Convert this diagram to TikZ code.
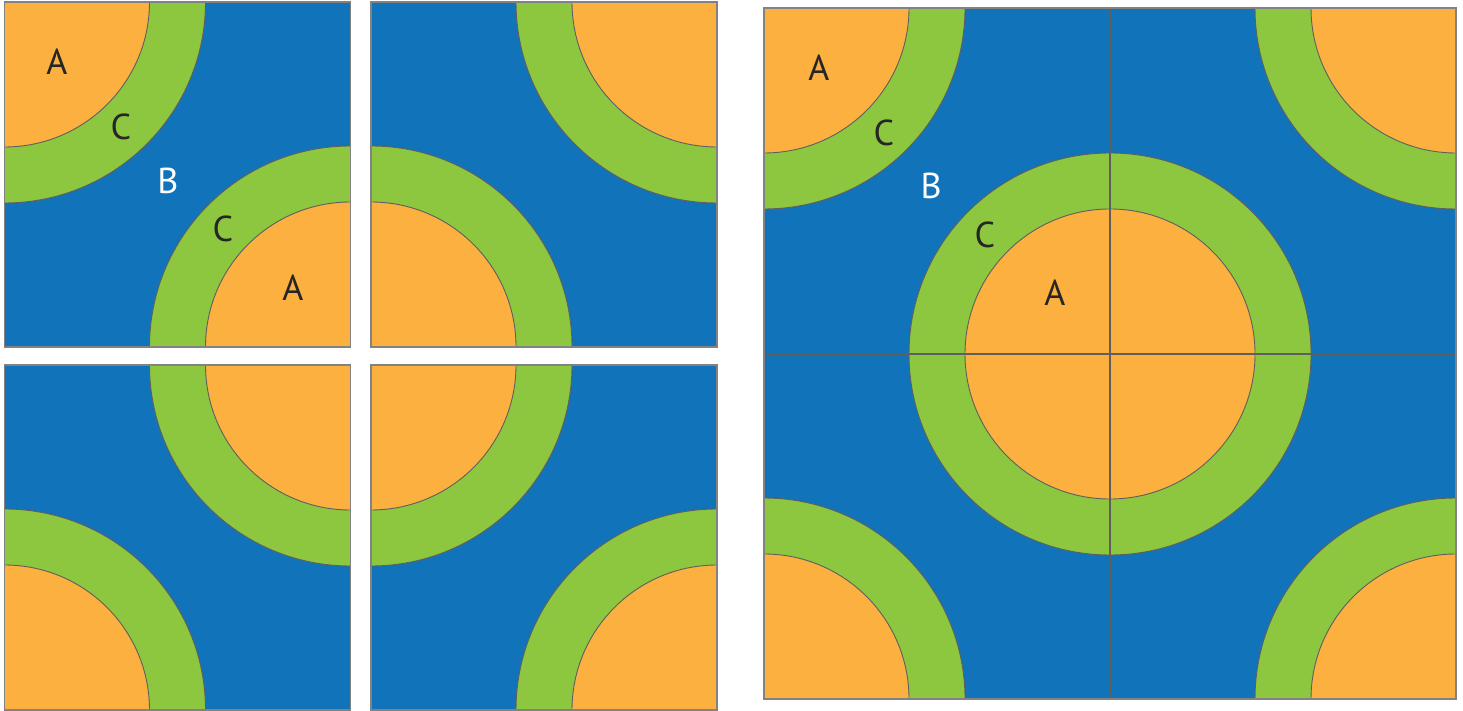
\documentclass[tikz,border=0pt]{standalone}
\usepackage{fontspec}
\setmainfont{PT Sans}
\usetikzlibrary{positioning}
\definecolor{seablue}{RGB}{17,115,186}
\definecolor{ringgreen}{RGB}{141,198,63}
\definecolor{coreorange}{RGB}{251,176,64}
\definecolor{edgegray}{RGB}{95,95,95}
\definecolor{framegray}{RGB}{130,130,130}

\begin{document}
\begin{tikzpicture}[
  x=1pt, y=1pt,
  sea/.style={fill=seablue},
  ring/.style={fill=ringgreen, draw=edgegray, line width=0.9pt},
  core/.style={fill=coreorange, draw=edgegray, line width=0.9pt},
  frame/.style={draw=framegray, line width=1.3pt},
  split/.style={draw=edgegray, line width=1.2pt},
  lbl/.style={font=\fontsize{36}{40}\selectfont, text=black!85},
  lblw/.style={lbl, text=white}
]
  \useasboundingbox (0,0) rectangle (1463,710);

  % four small tiles: lower-left corner, then the two circle centres
  \foreach \x/\y/\ax/\ay/\bx/\by in {4.5/363/4.5/708/350.5/363,
                                      371/363/717/708/371/363,
                                      4.5/0/350.5/345/4.5/0,
                                      371/0/371/345/717/0} {
    \begin{scope}
      \clip (\x,\y) rectangle ++(346,345);
      \fill[sea] (\x,\y) rectangle ++(346,345);
      \foreach \cx/\cy in {\ax/\ay,\bx/\by} {
        \draw[ring] (\cx,\cy) circle (201);
        \draw[core] (\cx,\cy) circle (145);
      }
    \end{scope}
    \draw[frame] (\x,\y) rectangle ++(346,345);
  }

  % big tile
  \begin{scope}
    \clip (764,11) rectangle (1456,702);
    \fill[sea] (764,11) rectangle (1456,702);
    \foreach \cx/\cy in {764/702,1456/702,764/11,1456/11,1110/356} {
      \draw[ring] (\cx,\cy) circle (201);
      \draw[core] (\cx,\cy) circle (145);
    }
    \draw[split] (1110,11) -- (1110,702);
    \draw[split] (764,356) -- (1456,356);
  \end{scope}
  \draw[frame] (764,11) rectangle (1456,702);

  % labels
  \node[lbl]  (sa1) at (57,648)  {A};
  \node[lbl]  (sc1) at (121,583) {C};
  \node[lblw] (sb)  at (168,529) {B};
  \node[lbl]  (sc2) at (223,481) {C};
  \node[lbl]  (sa2) at (293,422) {A};

  \node[lbl]  (ba1) at (819,642)  {A};
  \node[lbl]  (bc1) at (884,577)  {C};
  \node[lblw] (bb)  at (931,524)  {B};
  \node[lbl]  (bc2) at (985,475)  {C};
  \node[lbl]  (ba2) at (1055,417) {A};

\end{tikzpicture}
\end{document}
